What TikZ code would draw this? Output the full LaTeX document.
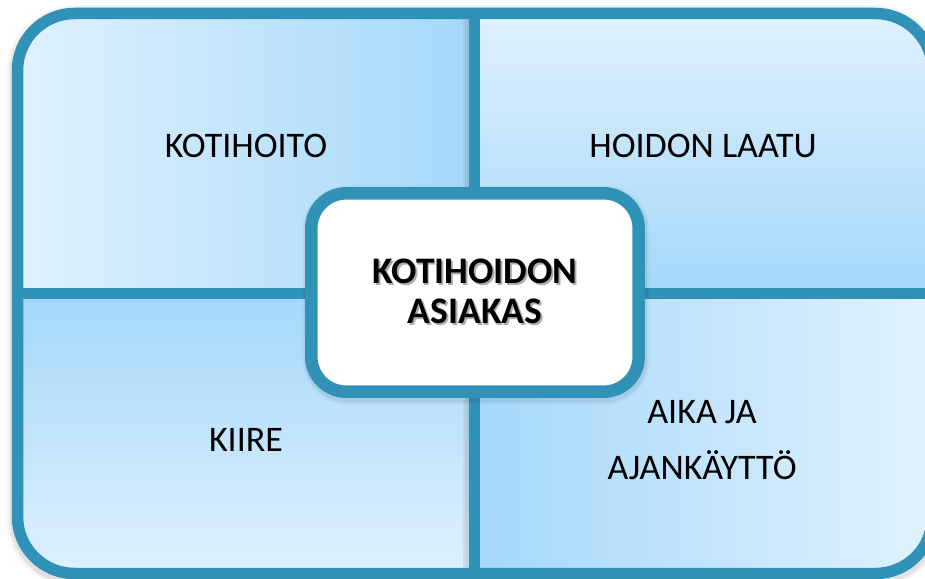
\documentclass[tikz,border=0pt]{standalone}
\usepackage{fontspec}
\setmainfont{Carlito}
\definecolor{frame}{RGB}{49,146,184}
\definecolor{lite}{RGB}{226,242,254}
\definecolor{deep}{RGB}{164,216,250}
\newcommand\myshadowtxt[1]{\rlap{\kern1.7pt\raisebox{-1.7pt}{\color{black!32}#1}}#1}
\begin{document}
\begin{tikzpicture}[x=1pt,y=-1pt,
  quadlabel/.style={font=\fontsize{36}{56}\selectfont, align=center, text=black, inner sep=0pt},
  centerlabel/.style={font=\fontsize{37.5}{40}\selectfont\bfseries, align=center, inner sep=0pt},
  framestroke/.style={draw=frame, line width=11.5pt},
  centerbox/.style={draw=frame, line width=12.5pt, fill=white, rounded corners=35pt,
    minimum width=327.4pt, minimum height=198.4pt, inner sep=0pt},
]
\useasboundingbox (0,0) rectangle (925,578);
\clip (0,0) rectangle (925,578);
% soft shadow of the frame
\foreach \w/\o in {22/0.03,18/0.04,15/0.05} {
  \draw[line width=\w pt, black, opacity=\o, rounded corners=57pt] (17.5,16) rectangle (932.5,576.5);
}
% quadrant fills
\begin{scope}
  \clip[rounded corners=57pt] (17.5,13.5) rectangle (932.5,573.5);
  \fill[left color=lite, right color=deep] (0,0) rectangle (474.5,293.5);
  \fill[top color=lite, bottom color=deep] (474.5,0) rectangle (940,293.5);
  \fill[top color=deep, bottom color=lite] (0,293.5) rectangle (474.5,590);
  \fill[left color=deep, right color=lite] (474.5,293.5) rectangle (940,590);
  % faint shade along the dividers
  \fill[left color=white, right color=black, opacity=0.07] (463,0) rectangle (469,293.5);
  \fill[left color=white, right color=black, opacity=0.07] (463,293.5) rectangle (469,590);
\end{scope}
% frame and dividers
\coordinate (vt) at (474.5,13.5);
\coordinate (vb) at (474.5,573.5);
\coordinate (hl) at (17.5,293.5);
\coordinate (hr) at (932.5,293.5);
\draw[framestroke, rounded corners=57pt] (17.5,13.5) rectangle (932.5,573.5);
\draw[framestroke] (vt) -- (vb);
\draw[framestroke] (hl) -- (hr);
% center box shadow
\foreach \w/\o in {20/0.04,16/0.05} {
  \draw[line width=\w pt, black, opacity=\o, rounded corners=35pt] (312.3,195.8) rectangle (639.7,394.2);
}
\node[centerbox] (ctr) at (475,292.5) {};
% labels
\node[quadlabel] (q1) at (246,145.5) {KOTIHOITO};
\node[quadlabel] (q2) at (703,145.5) {HOIDON LAATU};
\node[quadlabel] (q3) at (246,439.5) {KIIRE};
\node[quadlabel] (q4) at (702,440.5) {AIKA JA\\AJANKÄYTTÖ};
\node[centerlabel, text=black] (ctrtext) at (475,292) {\myshadowtxt{KOTIHOIDON}\\\myshadowtxt{ASIAKAS}};
\end{tikzpicture}
\end{document}
